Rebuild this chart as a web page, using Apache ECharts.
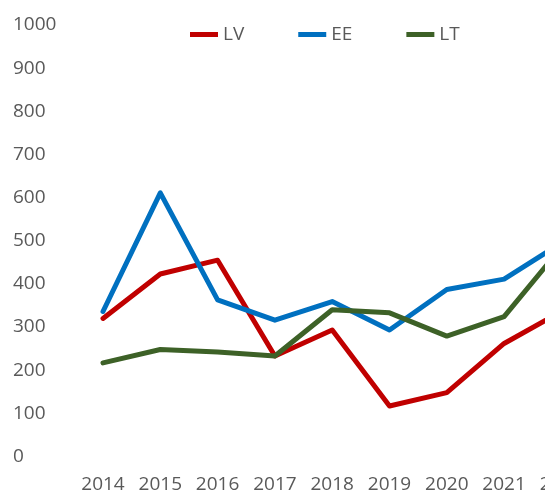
<!DOCTYPE html>
<html>
<head>
<meta charset="utf-8">
<script src="https://cdn.jsdelivr.net/npm/echarts@6/dist/echarts.min.js"></script>
<style>
  html, body { margin: 0; padding: 0; background: #fff; }
  #chart { width: 545px; height: 492px; }
</style>
</head>
<body>
<div id="chart"></div>
<script>
// 年份（最后一个 2022 被画布右侧裁掉）
var years = ["2014", "2015", "2016", "2017", "2018", "2019", "2020", "2021", "2022"];
// 各国数据
var lvData = [320, 423, 455, 233, 293, 117, 148, 262, 336];
var eeData = [336, 611, 363, 316, 359, 293, 387, 411, 495];
var ltData = [217, 248, 242, 233, 340, 333, 279, 324, 485];
var seriesNames = ["LV", "EE", "LT"];
var colors = ["#c00000", "#0070c0", "#3d6127"];

var fontFamily = "Open Sans";
var textColor = "#595959";

var myChart = echarts.init(document.getElementById("chart"));

var series = [];
var allData = [lvData, eeData, ltData];
for (var i = 0; i < allData.length; i++) {
  series.push({
    name: seriesNames[i],
    type: "line",
    data: allData[i],
    symbol: "none",
    smooth: false,
    lineStyle: {
      width: 5,
      color: colors[i],
      cap: "round",
      join: "round"
    },
    itemStyle: { color: colors[i] }
  });
}

var option = {
  animation: false,
  color: colors,
  legend: {
    left: 185,
    top: 20,
    itemWidth: 28,
    itemHeight: 5,
    itemGap: 54,
    icon: "rect",
    textStyle: {
      color: textColor,
      fontFamily: fontFamily,
      fontSize: 19
    },
    data: seriesNames
  },
  // 宽度超出画布，让 2022 落在画布外
  grid: {
    left: 74.35,
    width: 515.7,
    top: 25,
    bottom: 35.5,
    containLabel: false,
    outerBoundsMode: "none"
  },
  xAxis: {
    type: "category",
    data: years,
    boundaryGap: true,
    axisLine: { show: false },
    axisTick: { show: false },
    splitLine: { show: false },
    axisLabel: {
      color: textColor,
      fontFamily: fontFamily,
      fontSize: 19,
      margin: 19,
      interval: 0,
      hideOverlap: false
    }
  },
  yAxis: {
    type: "value",
    min: 0,
    max: 1000,
    interval: 100,
    axisLine: { show: false },
    axisTick: { show: false },
    splitLine: { show: false },
    axisLabel: {
      color: textColor,
      fontFamily: fontFamily,
      fontSize: 19,
      align: "left",
      margin: 61.35,
      formatter: function (v) { return String(v); }
    }
  },
  series: series
};

option && myChart.setOption(option);
</script>
</body>
</html>
